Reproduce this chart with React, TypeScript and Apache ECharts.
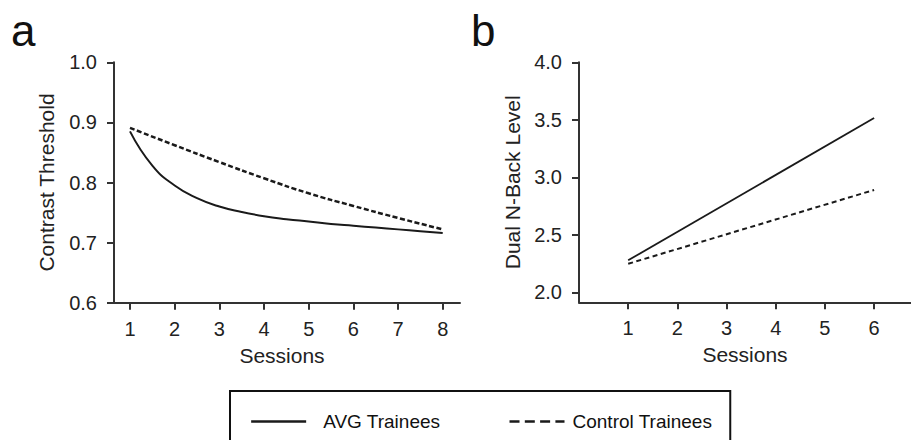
import React, { useEffect, useRef } from "react";
import * as echarts from "echarts";

// ---- Data ----
const xTicksA = [1, 2, 3, 4, 5, 6, 7, 8];
const yTicksA = [0.6, 0.7, 0.8, 0.9, 1.0];
const avgSessionsA = [1, 1.5, 2, 2.5, 3, 3.5, 4, 4.5, 5, 5.5, 6, 6.5, 7, 7.5, 8];
const avgValuesA = [0.885, 0.828, 0.795, 0.774, 0.760, 0.751, 0.744, 0.739, 0.735, 0.731, 0.728, 0.725, 0.722, 0.719, 0.716];
const ctrlSessionsA = [1, 2, 3, 4, 5, 6, 7, 8];
const ctrlValuesA = [0.891, 0.862, 0.834, 0.807, 0.782, 0.761, 0.741, 0.722];

const xTicksB = [1, 2, 3, 4, 5, 6];
const yTicksB = [2.0, 2.5, 3.0, 3.5, 4.0];
const avgSessionsB = [1, 6];
const avgValuesB = [2.278, 3.516];
const ctrlSessionsB = [1, 6];
const ctrlValuesB = [2.248, 2.89];

const seriesNames = ["AVG Trainees", "Control Trainees"];
const panelLabels = ["a", "b"];
const xAxisTitle = "Sessions";
const yAxisTitles = ["Contrast Threshold", "Dual N-Back Level"];

const FONT = "'Liberation Sans', Arial, Helvetica, sans-serif";
const AXIS = "#333333";
const INK = "#1a1a1a";
const TEXT = "#222222";

const pairs = (xs: number[], ys: number[]) => xs.map((x, i) => [x, ys[i]]);

function xAxisOpt(gridIndex: number, min: number, max: number, ticks: number[]) {
  return {
    type: "value",
    gridIndex,
    min,
    max,
    name: xAxisTitle,
    nameLocation: "middle",
    nameGap: 42,
    nameTextStyle: { fontSize: 21, color: TEXT, fontFamily: FONT, padding: gridIndex === 0 ? [0, 10, 0, 0] : 0 },
    axisLine: { show: true, lineStyle: { color: AXIS, width: 2 } },
    axisTick: { show: true, length: 7, lineStyle: { color: AXIS, width: 2 }, customValues: ticks },
    axisLabel: { customValues: ticks, margin: 16, fontSize: 20, color: TEXT, fontFamily: FONT },
    splitLine: { show: false },
  };
}

function yAxisOpt(gridIndex: number, min: number, max: number, ticks: number[], name: string, gap: number) {
  return {
    type: "value",
    gridIndex,
    min,
    max,
    name,
    nameLocation: "middle",
    nameGap: gap,
    nameTextStyle: { fontSize: 21, color: TEXT, fontFamily: FONT },
    axisLine: { show: true, lineStyle: { color: AXIS, width: 2 } },
    axisTick: { show: true, length: 7, lineStyle: { color: AXIS, width: 2 }, customValues: ticks },
    axisLabel: {
      customValues: ticks,
      margin: 17,
      fontSize: 20,
      color: TEXT,
      fontFamily: FONT,
      formatter: (v: number) => v.toFixed(1),
    },
    splitLine: { show: false },
  };
}

export default function App() {
  const ref = useRef<HTMLDivElement>(null);

  useEffect(() => {
    if (!ref.current) return;
    const chart = echarts.init(ref.current, undefined, { renderer: "svg" });
    chart.setOption({
      animation: false,
      backgroundColor: "#ffffff",
      textStyle: { fontFamily: FONT },
      grid: [
        { left: 114, top: 62.3, width: 346, height: 240.4 },
        { left: 579, top: 62.3, width: 332, height: 240 },
      ],
      xAxis: [xAxisOpt(0, 0.642, 8.387, xTicksA), xAxisOpt(1, 0, 6.75, xTicksB)],
      yAxis: [
        yAxisOpt(0, 0.6, 1.0, yTicksA, yAxisTitles[0], 57),
        yAxisOpt(1, 1.913, 4.0, yTicksB, yAxisTitles[1], 56),
      ],
      legend: {
        left: 230,
        top: 391,
        orient: "horizontal",
        padding: [21, 18, 40, 20],
        borderColor: "#111111",
        borderWidth: 2,
        itemWidth: 55,
        itemHeight: 14,
        itemGap: 68,
        itemStyle: { color: "rgba(0,0,0,0)", borderWidth: 0, opacity: 0 },
        textStyle: { fontSize: 19, color: "#111111", fontFamily: FONT },
        data: [
          {
            name: seriesNames[0],
            lineStyle: { width: 2.3, type: "solid", color: INK },
            textStyle: { fontSize: 19, color: "#111111", fontFamily: FONT, padding: [0, 0, 0, 12] },
          },
          {
            name: seriesNames[1],
            lineStyle: { width: 2.3, type: [10, 5.3], color: INK },
            textStyle: { fontSize: 19, color: "#111111", fontFamily: FONT, padding: [0, 0, 0, 3] },
          },
        ],
      },
      series: [
        {
          type: "line",
          name: seriesNames[0],
          xAxisIndex: 0,
          yAxisIndex: 0,
          data: pairs(avgSessionsA, avgValuesA),
          smooth: 0.5,
          symbol: "none",
          lineStyle: { color: INK, width: 2 },
          itemStyle: { color: INK },
        },
        {
          type: "line",
          name: seriesNames[1],
          xAxisIndex: 0,
          yAxisIndex: 0,
          data: pairs(ctrlSessionsA, ctrlValuesA),
          smooth: 0.5,
          symbol: "none",
          lineStyle: { color: INK, width: 2.5, type: [5, 2.5] },
          itemStyle: { color: INK },
        },
        {
          type: "line",
          name: seriesNames[0],
          xAxisIndex: 1,
          yAxisIndex: 1,
          data: pairs(avgSessionsB, avgValuesB),
          symbol: "none",
          lineStyle: { color: INK, width: 1.8 },
          itemStyle: { color: INK },
        },
        {
          type: "line",
          name: seriesNames[1],
          xAxisIndex: 1,
          yAxisIndex: 1,
          data: pairs(ctrlSessionsB, ctrlValuesB),
          symbol: "none",
          lineStyle: { color: INK, width: 2, type: [5, 3.5] },
          itemStyle: { color: INK },
        },
      ],
      graphic: [
        {
          type: "text",
          left: 11,
          top: 8,
          style: { text: panelLabels[0], fontSize: 44, fill: "#111111", fontFamily: FONT },
        },
        {
          type: "text",
          left: 471,
          top: 8,
          style: { text: panelLabels[1], fontSize: 44, fill: "#111111", fontFamily: FONT },
        },
      ],
    });
    return () => chart.dispose();
  }, []);

  return (
    <div
      ref={ref}
      style={{ position: "fixed", left: 0, top: 0, width: 911, height: 440, background: "#fff" }}
    />
  );
}
